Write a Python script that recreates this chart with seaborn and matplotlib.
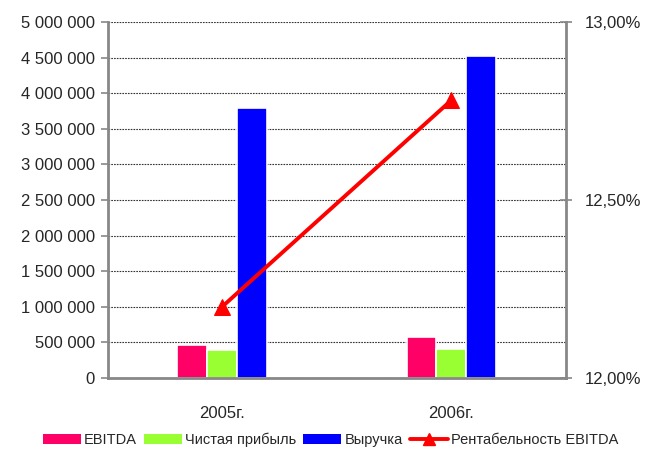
import numpy as np
import pandas as pd
import matplotlib
matplotlib.use("Agg")
import matplotlib.pyplot as plt
from matplotlib.ticker import FuncFormatter, MultipleLocator
from matplotlib.lines import Line2D
from matplotlib.patches import Patch
import seaborn as sns

years = ["2005г.", "2006г."]
ebitda = [460000, 575000]
net_profit = [395000, 410000]
revenue = [3800000, 4520000]
margin = [12.20, 12.78]  # рентабельность EBITDA, %

series_names = ["EBITDA", "Чистая прибыль", "Выручка"]
line_name = "Рентабельность EBITDA"
colors = ["#FF0066", "#99FF33", "#0000FF"]
line_color = "#FF0000"

ds = pd.DataFrame({
    "year": years * 3,
    "series": [s for s in series_names for _ in years],
    "value": ebitda + net_profit + revenue,
})

sns.set_style("white")
plt.rcParams["font.family"] = ["Liberation Sans", "DejaVu Sans"]

fig = plt.figure(figsize=(6.48, 4.51), dpi=100)
ax = fig.add_axes([0.166, 0.162, 0.707, 0.789])

sns.barplot(data=ds, x="year", y="value", hue="series", palette=colors, saturation=1,
            width=0.39, edgecolor="white", linewidth=1.2, ax=ax, legend=False)

ax.set_ylim(0, 5000000)
ax.set_xlim(-0.5, 1.5)
ax.yaxis.set_major_locator(MultipleLocator(500000))
ax.yaxis.set_major_formatter(FuncFormatter(lambda v, p: f"{v:,.0f}".replace(",", " ")))
ax.grid(axis="y", linestyle=(0, (1.5, 1)), color="#333333", linewidth=0.8)
ax.set_axisbelow(True)
ax.set_xlabel("")
ax.set_ylabel("")
ax.tick_params(axis="y", direction="out", length=5, width=1.2, color="#888888",
               labelsize=12, pad=4, left=True)
ax.tick_params(axis="x", length=0, labelsize=12, pad=20)
for side in ["top", "right"]:
    ax.spines[side].set_visible(False)
for side in ["left", "bottom"]:
    ax.spines[side].set_color("#888888")
    ax.spines[side].set_linewidth(2)

ax2 = ax.twinx()
sns.lineplot(x=list(range(len(years))), y=margin, color=line_color, linewidth=2.8,
             marker="^", markersize=11, markeredgecolor=line_color, ax=ax2)
ax2.set_ylim(12.0, 13.0)
ax2.set_yticks([12.0, 12.5, 13.0])
ax2.yaxis.set_major_formatter(FuncFormatter(lambda v, p: f"{v:.2f}".replace(".", ",") + "%"))
ax2.tick_params(axis="y", direction="inout", length=8, width=1.2, color="#888888",
                labelsize=12, pad=10, right=True)
for side in ["top", "left", "bottom"]:
    ax2.spines[side].set_visible(False)
ax2.spines["right"].set_color("#888888")
ax2.spines["right"].set_linewidth(2)

handles = [Patch(facecolor=c, edgecolor="none") for c in colors]
handles.append(Line2D([], [], color=line_color, linewidth=2.8, marker="^", markersize=8))
fig.legend(handles, series_names + [line_name], loc="center", bbox_to_anchor=(0.51, 0.024),
           ncol=4, frameon=False, fontsize=10.5, handlelength=2.6, handleheight=0.7,
           handletextpad=0.2, columnspacing=0.5)

fig.savefig("out.png", dpi=100)
